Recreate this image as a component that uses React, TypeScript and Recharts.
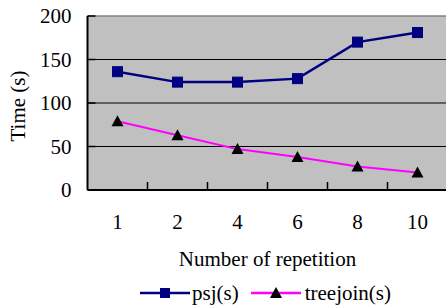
import {
  ComposedChart,
  Line,
  XAxis,
  YAxis,
  CartesianGrid,
  ReferenceLine,
  Legend,
} from "recharts";

const repetitions = ["1", "2", "4", "6", "8", "10"];
const psj = [136, 124, 124, 128, 170, 181];
const treejoin = [79, 63, 47, 38, 27, 20];
const yTicks = [0, 50, 100, 150, 200];
const Y_MAX = 200;

const data = repetitions.map((r, i) => ({ rep: r, psj: psj[i], treejoin: treejoin[i] }));

const FONT = '"Liberation Serif", "Times New Roman", serif';
const NAVY = "#000080";
const MAGENTA = "#ff00ff";
const X_MARGIN = 24;
const Y_MARGIN = 16;

const Square = (props: any) => {
  const { cx, cy } = props;
  if (cx == null || cy == null) return null;
  return <rect x={cx - 5} y={cy - 5} width={10} height={10} fill={NAVY} stroke={NAVY} strokeWidth={1} />;
};

const Triangle = (props: any) => {
  const { cx, cy } = props;
  if (cx == null || cy == null) return null;
  return <polygon points={`${cx},${cy - 6} ${cx - 6},${cy + 5} ${cx + 6},${cy + 5}`} fill="#000" />;
};

const XTick = (props: any) => {
  const { x, y, payload } = props;
  return (
    <text x={x} y={y} dy="0.71em" textAnchor="middle" fontSize={21} fontFamily={FONT} fill="#000">
      {payload.value}
    </text>
  );
};

const YTick = (props: any) => {
  const { x, y, payload } = props;
  return (
    <text x={x} y={y} dy="0.355em" textAnchor="end" fontSize={21} fontFamily={FONT} fill="#000">
      {payload.value}
    </text>
  );
};

// x title plus the inward excel-style tick marks on the band edges
const XTitle = (p: any) => {
  const vb = p.viewBox;
  const n = repetitions.length;
  const band = vb.width / n;
  return (
    <g>
      {repetitions.slice(1).map((r, i) => {
        const ex = vb.x + band * (i + 1);
        return <line key={r} x1={ex} x2={ex} y1={vb.y} y2={vb.y - 8} stroke="#000" strokeWidth={1.5} />;
      })}
      <text x={vb.x + vb.width / 2} y={vb.y + 76} textAnchor="middle" fontSize={21} fontFamily={FONT} fill="#000">
        Number of repetition
      </text>
    </g>
  );
};

// y title plus the inward tick marks
const YTitle = (p: any) => {
  const vb = p.viewBox;
  const axisX = vb.x + vb.width;
  const x = 18;
  const y = vb.y + vb.height / 2 + 3;
  return (
    <g>
      {yTicks.map((v) => {
        const ty = vb.y + vb.height * (1 - v / Y_MAX);
        return <line key={v} x1={axisX} x2={axisX + 8} y1={ty} y2={ty} stroke="#000" strokeWidth={1.5} />;
      })}
      <text
        x={x}
        y={y}
        transform={`rotate(-90, ${x}, ${y})`}
        textAnchor="middle"
        dominantBaseline="central"
        fontSize={21}
        fontFamily={FONT}
        fill="#000"
      >
        Time (s)
      </text>
    </g>
  );
};

const LegendContent = () => (
  <div
    style={{
      display: "flex",
      alignItems: "center",
      height: 26,
      paddingLeft: 140,
      fontFamily: FONT,
      fontSize: 21,
      color: "#000",
    }}
  >
    <svg width={52} height={14}>
      <line x1={0} y1={7} x2={50} y2={7} stroke={NAVY} strokeWidth={2.5} />
      <rect x={20} y={2} width={10} height={10} fill={NAVY} />
    </svg>
    <span style={{ marginRight: 12 }}>psj(s)</span>
    <svg width={54} height={14}>
      <line x1={0} y1={7} x2={50} y2={7} stroke={MAGENTA} strokeWidth={2.5} />
      <polygon points="25,1 19,12 31,12" fill="#000" />
    </svg>
    <span>treejoin(s)</span>
  </div>
);

export default function App() {
  return (
    <div
      style={{
        position: "absolute",
        left: 0,
        top: 0,
        width: 446,
        height: 306,
        overflow: "hidden",
        background: "#fff",
        fontFamily: FONT,
      }}
    >
      <ComposedChart
        width={460}
        height={306}
        data={data}
        margin={{ top: 16, right: 12.5, left: 0, bottom: 0 }}
      >
        <CartesianGrid
          vertical={false}
          fill="#c0c0c0"
          stroke="#000"
          horizontalValues={[50, 100, 150]}
        />
        <ReferenceLine y={Y_MAX} stroke="#808080" strokeWidth={1.5} />
        <XAxis
          dataKey="rep"
          scale="band"
          height={90}
          tickSize={0}
          tickMargin={X_MARGIN}
          axisLine={{ stroke: "#000", strokeWidth: 2 }}
          tick={<XTick />}
          label={XTitle}
        />
        <YAxis
          width={87.5}
          domain={[0, Y_MAX]}
          ticks={yTicks}
          tickSize={0}
          tickMargin={Y_MARGIN}
          axisLine={{ stroke: "#000", strokeWidth: 2 }}
          tick={<YTick />}
          label={YTitle}
        />
        <Line
          dataKey="psj"
          stroke={NAVY}
          strokeWidth={2.5}
          dot={<Square />}
          activeDot={false}
          isAnimationActive={false}
        />
        <Line
          dataKey="treejoin"
          stroke={MAGENTA}
          strokeWidth={2}
          dot={<Triangle />}
          activeDot={false}
          isAnimationActive={false}
        />
        <Legend verticalAlign="bottom" wrapperStyle={{ left: 0, width: 446 }} content={<LegendContent />} />
      </ComposedChart>
    </div>
  );
}
